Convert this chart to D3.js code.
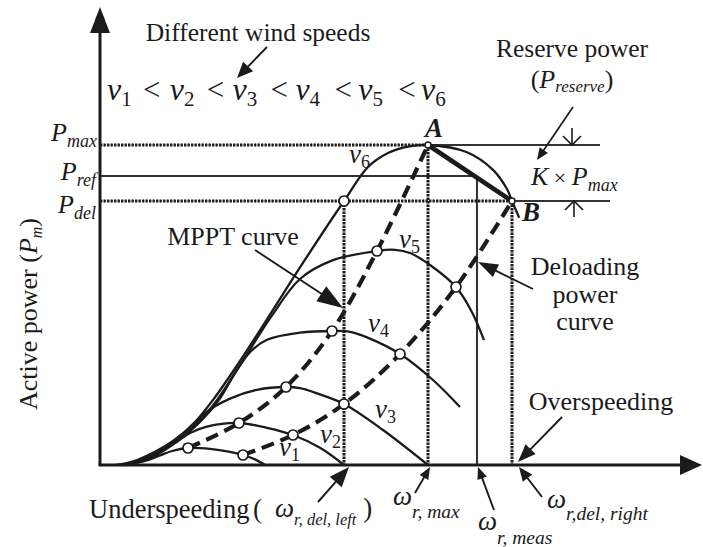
<!DOCTYPE html>
<html>
<head>
<meta charset="utf-8">
<script src="https://cdn.jsdelivr.net/npm/d3@7/dist/d3.min.js"></script>
<style>
  html, body { margin: 0; padding: 0; background: #fff; }
  svg text { font-family: "Liberation Serif", "Times New Roman", serif; fill: #1b1b1b; }
</style>
</head>
<body>
<svg id="chart" width="703" height="547"></svg>
<script>
// Wind-turbine power curves: rotor speed ω (arbitrary units) vs. active power P (arbitrary units)
const windSpeeds = ["1", "2", "3", "4", "5", "6"];

// [ω, P] samples for each wind speed
const curveV1 = [[6.5,0],[11.25,1],[15,2.4],[18,3.5],[22,4.25],[27.5,4.05],[32.5,3.3],[35.75,2.5],[38.75,1.4],[41.25,0]];
const curveV2 = [[6,0],[10.75,1],[15.5,3.3],[19.5,6],[22.5,8],[26.75,9.6],[34.75,10.5],[41.75,9.3],[48.25,7.5],[55,4.3],[61,0]];
const curveV3 = [[5.5,0],[10.25,1],[15,3.25],[19.5,6.3],[23.25,9.6],[26.25,13],[32.5,16.6],[39.25,18.8],[46.5,19.5],[50,19.2],[54.25,17.9],[61,15.25],[70.75,8.75],[82,0]];
const curveV4 = [[5,0],[9.75,1],[14.75,3.25],[19.75,6.3],[24.75,10.5],[29.75,16.3],[33.75,23],[37.5,28.2],[41.75,31.3],[50,33.1],[58,33.5],[62.5,33.3],[66.75,31.9],[75,27.75],[83.25,21.25],[90,14.5]];
const curveV5 = [[4.75,0],[9.5,1],[14.5,3.2],[19.5,6.3],[24.5,10.5],[29.5,16.6],[35.75,26.1],[43,37.4],[50,46.5],[58.25,51.2],[69.25,53.5],[73.75,53.8],[77.5,53],[82.5,50],[89,44.5],[93,38.2],[96,31.2]];
const curveV6 = [[4,0],[8.5,1],[13.5,3.2],[18.5,6.2],[23.5,10.5],[28.5,16.6],[35,26],[42.5,37.6],[50,49.4],[61,66],[67,74.5],[72,78],[77,79.6],[82,80],[91.75,78.2],[98.25,73.8],[101.75,69],[103,66],[104.8,61.8]];

// Maximum power points and deloaded operating points
const mpptCurve = [[22,4.25],[34.75,10.5],[46.5,19.5],[58,33.5],[69.25,53.5],[82,80]];
const deloadCurve = [[35.75,2.5],[48.25,7.5],[61,15.25],[75,27.75],[89,44.5],[103,66]];

// Power levels and rotor speeds of interest
const pMax = 80, pRef = 72.25, pDel = 66;
const wDelLeft = 61, wMax = 82, wMeas = 94.25, wDelRight = 103;
const bracketEnds = [125, 127.5];   // ω where the reserve-band lines stop
const bracketArrowW = 118;

const svg = d3.select("#chart");
const ink = "#1b1b1b";

const x = d3.scaleLinear().domain([0, 150]).range([100, 700]);
const y = d3.scaleLinear().domain([0, 115]).range([465, 5]);

const dotted = s => s.attr("stroke", ink).attr("stroke-width", 3).attr("stroke-dasharray", "2.4,1.1").attr("fill", "none");
const thin = s => s.attr("stroke", "#333").attr("stroke-width", 1.9).attr("fill", "none");

function seg(w1, p1, w2, p2) {
  return svg.append("line").attr("x1", x(w1)).attr("y1", y(p1)).attr("x2", x(w2)).attr("y2", y(p2));
}

// reference levels
seg(0, pMax, wMax, pMax).call(dotted);
seg(wMax, pMax, bracketEnds[0], pMax).call(thin);
seg(0, pRef, wMeas, pRef).call(thin).attr("stroke-width", 2.1);
seg(wMeas, pRef, wMeas, 0).call(thin).attr("stroke-width", 2.1);
seg(0, pDel, wDelRight, pDel).call(dotted);
seg(wDelRight, pDel, bracketEnds[1], pDel).call(thin);
seg(wDelLeft, pDel, wDelLeft, 0).call(dotted);
seg(wMax, pMax, wMax, 0).call(dotted);
seg(wDelRight, pDel, wDelRight, 0).call(dotted);

// power curves
const line = d3.line().x(d => x(d[0])).y(d => y(d[1])).curve(d3.curveCatmullRom.alpha(0.5));
[curveV1, curveV2, curveV3, curveV4, curveV5, curveV6].forEach(c => {
  svg.append("path").attr("d", line(c)).attr("fill", "none").attr("stroke", ink).attr("stroke-width", 2.3);
});

// MPPT and deloading curves
[mpptCurve, deloadCurve].forEach(c => {
  svg.append("path").attr("d", line(c)).attr("fill", "none").attr("stroke", ink)
    .attr("stroke-width", 4.2).attr("stroke-dasharray", "13,7");
});

// A -> B deloading step
seg(wMax, pMax, wDelRight, pDel).attr("stroke", ink).attr("stroke-width", 4.6).attr("stroke-linecap", "round");

// operating points
const pts = mpptCurve.slice(0, 5).concat(deloadCurve.slice(0, 5)).concat([[wDelLeft, pDel]]);
svg.selectAll("circle.op").data(pts).join("circle").attr("class", "op")
  .attr("cx", d => x(d[0])).attr("cy", d => y(d[1])).attr("r", 5)
  .attr("fill", "#fff").attr("stroke", ink).attr("stroke-width", 1.7);
svg.selectAll("circle.ab").data([[wMax, pMax], [wDelRight, pDel]]).join("circle").attr("class", "ab")
  .attr("cx", d => x(d[0])).attr("cy", d => y(d[1])).attr("r", 3)
  .attr("fill", "#fff").attr("stroke", ink).attr("stroke-width", 1.5);

// axes
const x0 = x(0), y0 = y(0);
svg.append("line").attr("x1", x0).attr("y1", y0).attr("x2", x0).attr("y2", y(115) + 24).attr("stroke", ink).attr("stroke-width", 3);
svg.append("path").attr("d", `M${x0},${y(115) + 2}L${x0 - 10},${y(115) + 28}L${x0 + 10},${y(115) + 28}Z`).attr("fill", ink);
svg.append("line").attr("x1", x0 - 1.5).attr("y1", y0).attr("x2", x(150) - 18).attr("y2", y0).attr("stroke", ink).attr("stroke-width", 3);
svg.append("path").attr("d", `M${x(150) + 2},${y0}L${x(150) - 20},${y0 - 10}L${x(150) - 20},${y0 + 10}Z`).attr("fill", ink);

// arrows
function arrow(x1, y1, x2, y2, len, half, w) {
  const a = Math.atan2(y2 - y1, x2 - x1);
  const bx = x2 - len * Math.cos(a), by = y2 - len * Math.sin(a);
  svg.append("line").attr("x1", x1).attr("y1", y1).attr("x2", bx + 2 * Math.cos(a)).attr("y2", by + 2 * Math.sin(a))
    .attr("stroke", ink).attr("stroke-width", w || 1.9);
  svg.append("path").attr("fill", ink)
    .attr("d", `M${x2},${y2}L${bx + half * Math.sin(a)},${by - half * Math.cos(a)}L${bx - half * Math.sin(a)},${by + half * Math.cos(a)}Z`);
}
function openArrow(xc, yTail, yTip) {
  const dir = yTip > yTail ? 1 : -1;
  svg.append("line").attr("x1", xc).attr("y1", yTail).attr("x2", xc).attr("y2", yTip).attr("stroke", ink).attr("stroke-width", 1.6);
  svg.append("path").attr("d", `M${xc - 9},${yTip - dir * 9}L${xc},${yTip}L${xc + 9},${yTip - dir * 9}`)
    .attr("fill", "none").attr("stroke", ink).attr("stroke-width", 1.6);
}

arrow(267, 47, 237, 78, 16, 7);
arrow(573, 107, 537, 160, 12, 5, 1.7);
openArrow(x(bracketArrowW), y(pMax) - 17, y(pMax));
openArrow(x(bracketArrowW) + 2, y(pDel) + 16, y(pDel));
arrow(255, 250, 343, 308, 26, 9);
arrow(533, 289, 478, 262, 20, 7);
arrow(562, 417, 518, 462, 18, 7);
arrow(318, 502, x(wDelLeft) + 5, y0 + 2, 20, 8);
arrow(415, 493, x(wMax) + 2, y0 + 2, 12, 5);
arrow(494, 510, x(wMeas) + 1, y0 + 2, 12, 5);
arrow(542, 497, x(wDelRight) + 7, y0 + 2, 14, 6);

// text helper
function rich(px, py, parts, anchor) {
  const t = svg.append("text").attr("x", px).attr("y", py).attr("text-anchor", anchor || "start");
  parts.forEach(p => {
    const s = t.append("tspan").text(p.t).attr("font-size", p.size);
    if (p.it) s.attr("font-style", "italic");
    if (p.bold) s.attr("font-weight", "bold");
    if (p.dy) s.attr("dy", p.dy);
    if (p.dx) s.attr("dx", p.dx);
  });
  return t;
}

// y-axis level labels
rich(97, y(pMax) - 4, [{t: "P", it: 1, size: 26}, {t: "max", it: 1, size: 18, dy: 6}], "end");
rich(96, y(pRef) + 4, [{t: "P", it: 1, size: 26}, {t: "ref", it: 1, size: 18, dy: 6}], "end");
rich(96, y(pDel) + 12, [{t: "P", it: 1, size: 26}, {t: "del", it: 1, size: 18, dy: 6}], "end");

// axis title
svg.append("text").attr("transform", "translate(37,314) rotate(-90)").attr("text-anchor", "middle")
  .call(t => {
    t.append("tspan").text("Active power (").attr("font-size", 26);
    t.append("tspan").text("P").attr("font-size", 26).attr("font-style", "italic");
    t.append("tspan").text("m").attr("font-size", 16).attr("font-style", "italic").attr("dy", 5);
    t.append("tspan").text(")").attr("font-size", 26).attr("dy", -5);
  });

// wind speed ordering
svg.append("text").attr("x", 258).attr("y", 41).attr("text-anchor", "middle").attr("font-size", 25.5).text("Different wind speeds");
windSpeeds.forEach((s, i) => {
  rich(107 + 62.8 * i, 100, [{t: "v", it: 1, size: 32}, {t: s, size: 21, dy: 6}]);
  if (i < windSpeeds.length - 1) svg.append("text").attr("x", 143 + 63.8 * i).attr("y", 100).attr("font-size", 31).text("<");
});

// reserve annotation
svg.append("text").attr("x", 572).attr("y", 57).attr("text-anchor", "middle").attr("font-size", 25.5).text("Reserve power");
rich(572, 88, [{t: "(", size: 26}, {t: "P", it: 1, size: 26}, {t: "reserve", it: 1, size: 17, dy: 4}, {t: ")", size: 26, dy: -4}], "middle");
rich(531, 185, [{t: "K", it: 1, size: 26}, {t: " × ", size: 22}, {t: "P", it: 1, size: 26}, {t: "max", it: 1, size: 18, dy: 6}]);

// point labels
rich(434, 137, [{t: "A", it: 1, bold: 1, size: 27}], "middle");
rich(522, 221, [{t: "B", it: 1, bold: 1, size: 27}]);

// curve labels
const speedLabelPos = [[279, 456], [320, 443], [375, 418], [368, 332], [399, 248], [349, 163]];
speedLabelPos.forEach((p, i) => {
  rich(p[0], p[1], [{t: "v", it: 1, size: 27}, {t: windSpeeds[i], size: 18, dy: 5}]);
});

svg.append("text").attr("x", 233).attr("y", 245).attr("text-anchor", "middle").attr("font-size", 26).text("MPPT curve");
["Deloading", "power", "curve"].forEach((s, i) => {
  svg.append("text").attr("x", 585).attr("y", 275 + 27.5 * i).attr("text-anchor", "middle").attr("font-size", 26).text(s);
});
svg.append("text").attr("x", 601).attr("y", 410).attr("text-anchor", "middle").attr("font-size", 26).text("Overspeeding");

// rotor speed labels
rich(89, 518, [{t: "Underspeeding", size: 26.5}]);
rich(253, 518, [{t: "(", size: 27}]);
rich(275, 517, [{t: "ω", it: 1, size: 27}, {t: "r, del, left", it: 1, size: 16.5, dy: 8}, {t: " )", size: 27, dy: -8}]);
rich(393, 505, [{t: "ω", it: 1, size: 27}, {t: "r, max", it: 1, size: 19.5, dy: 13}]);
rich(478, 530, [{t: "ω", it: 1, size: 27}, {t: "r, meas", it: 1, size: 19.5, dy: 14}]);
rich(547, 508, [{t: "ω", it: 1, size: 27}, {t: "r,del, right", it: 1, size: 19.5, dy: 12}]);
</script>
</body>
</html>
